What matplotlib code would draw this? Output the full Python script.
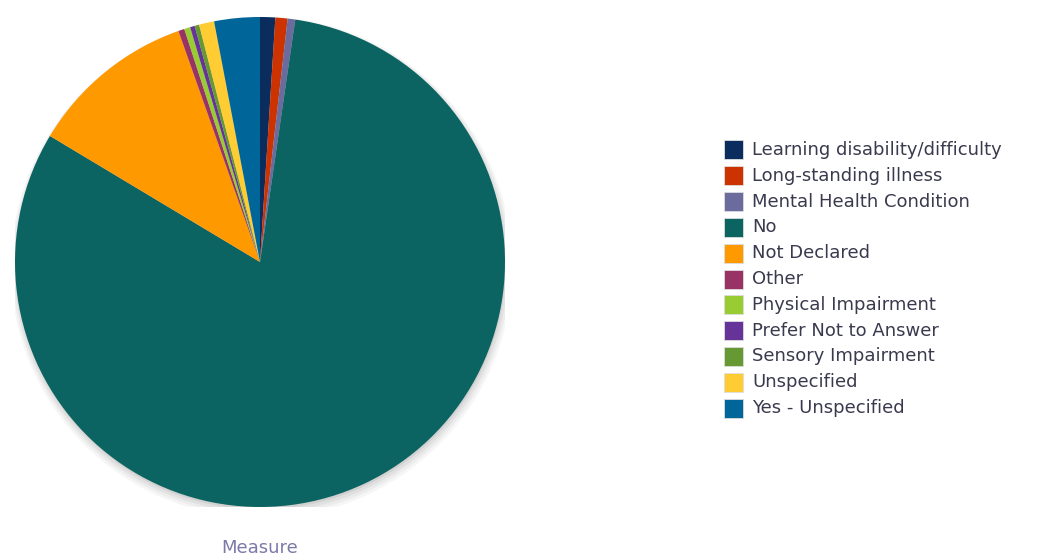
import matplotlib
matplotlib.use("Agg")
import matplotlib.pyplot as plt
from matplotlib.patches import Rectangle, Circle

categories = ["Learning disability/difficulty", "Long-standing illness",
              "Mental Health Condition", "No", "Not Declared", "Other",
              "Physical Impairment", "Prefer Not to Answer",
              "Sensory Impairment", "Unspecified", "Yes - Unspecified"]
values = [1.0, 0.8, 0.5, 81.3, 11.0, 0.4, 0.4, 0.3, 0.3, 1.0, 3.0]
colors = ["#0b2d5e", "#cc3300", "#6b6b9e", "#0b6462", "#ff9900", "#993366",
          "#99cc33", "#663399", "#669933", "#ffcc33", "#006699"]
axis_label = "Measure"

W, H = 1058, 559
fig = plt.figure(figsize=(W / 100, H / 100), dpi=100)
fig.patch.set_facecolor("white")

cx, cy, r = 260, 262, 245
ax = fig.add_axes([(cx - r) / W, (H - cy - r) / H, 2 * r / W, 2 * r / H])
ax.set_aspect("equal")
ax.axis("off")

# soft shadow
for i, a in enumerate([0.05, 0.06, 0.08, 0.10]):
    off = 0.022 - i * 0.004
    ax.add_patch(Circle((off * 0.3, -off), 1.0 + 0.008 * (3 - i),
                        color="#555555", alpha=a, lw=0, zorder=0))

ax.pie(values, colors=colors, startangle=90, counterclock=False,
       radius=1.0, wedgeprops=dict(linewidth=0), center=(0, 0),
       frame=False)
ax.set_xlim(-1.0, 1.0)
ax.set_ylim(-1.0, 1.0)

fig.text(cx / W, 1 - 548 / H, axis_label, ha="center", va="center",
         fontsize=13, color="#7a7aa8", family="DejaVu Sans")

# legend
x_box, y0, dy, box = 724, 150, 25.8, 19
for i, (lab, col) in enumerate(zip(categories, colors)):
    yc = y0 + i * dy
    fig.patches.append(Rectangle((x_box / W, 1 - (yc + box / 2) / H),
                                 box / W, box / H, transform=fig.transFigure,
                                 facecolor=col, edgecolor="#dddddd", lw=0.6,
                                 figure=fig))
    fig.text(752 / W, 1 - yc / H, lab, ha="left", va="center",
             fontsize=13, color="#3a3a4e", family="DejaVu Sans")

fig.savefig("out.png", dpi=100)
